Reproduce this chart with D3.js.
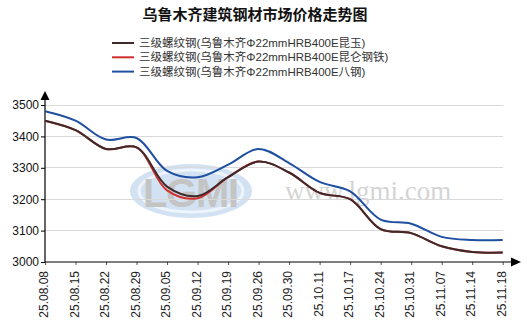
<!DOCTYPE html>
<html><head><meta charset="utf-8">
<script src="https://cdn.jsdelivr.net/npm/d3@7"></script>
<style>body{margin:0;background:#fff}svg{display:block}</style>
</head><body>
<svg id="c" width="527" height="334"></svg>
<script>
const title = "乌鲁木齐建筑钢材市场价格走势图";
const dates = ["25.08.08","25.08.15","25.08.22","25.08.29","25.09.05","25.09.12","25.09.19","25.09.26","25.09.30","25.10.11","25.10.17","25.10.24","25.10.31","25.11.07","25.11.14","25.11.18"];
const seriesNames = ["三级螺纹钢(乌鲁木齐Φ22mmHRB400E昆玉)","三级螺纹钢(乌鲁木齐Φ22mmHRB400E昆仑钢铁)","三级螺纹钢(乌鲁木齐Φ22mmHRB400E八钢)"];
const kunyu  = [3450,3420,3360,3365,3240,3210,3270,3320,3285,3220,3200,3105,3092,3050,3032,3030];
const kunlun = [3450,3420,3360,3365,3228,3203,3270,3320,3285,3220,3200,3105,3092,3050,3032,3030];
const bagang = [3480,3450,3390,3395,3290,3270,3310,3360,3315,3255,3225,3135,3122,3080,3070,3070];
const yTicks = [3000,3100,3200,3300,3400,3500];
const colors = ["#3e2a2a","#d0302e","#1f4fa0"];

const svg = d3.select("#c");
const x = d3.scalePoint().domain(dates).range([45, 502.7]);
const y = d3.scaleLinear().domain([3000,3500]).range([262,105]);
const font = "'Liberation Sans', Arial, 'Noto Sans CJK SC', sans-serif";

// watermark
const wm = svg.append("g");
wm.append("ellipse").attr("cx",191).attr("cy",191).attr("rx",61).attr("ry",27).attr("fill","#d3e2f2");
wm.append("ellipse").attr("cx",191).attr("cy",191).attr("rx",52).attr("ry",21).attr("fill","none").attr("stroke","#eef4fb").attr("stroke-width",3);
wm.append("text").attr("x",191).attr("y",207).attr("text-anchor","middle").attr("font-family","'Liberation Sans', Arial").attr("font-weight","bold").attr("font-size",40).attr("fill","#c4c4c4").attr("textLength",96).text("LGMI");
wm.append("text").attr("x",285).attr("y",200).attr("font-family","'Liberation Serif', 'Times New Roman', serif").attr("font-size",27).attr("fill","#d4d4d4").text("www.lgmi.com");

// grid
svg.append("g").selectAll("line").data(yTicks.slice(1)).join("line")
  .attr("x1",45).attr("x2",503).attr("y1",d=>y(d)).attr("y2",d=>y(d))
  .attr("stroke","#d9d9d9").attr("stroke-width",1).attr("shape-rendering","crispEdges");

// title
svg.append("text").attr("x",255).attr("y",20).attr("text-anchor","middle")
  .attr("font-family","'Noto Sans CJK SC', sans-serif").attr("font-weight","bold").attr("font-size",15).attr("fill","#111").text(title);

// legend
const lg = svg.append("g");
seriesNames.forEach((n,i)=>{
  const yy = 43 + i*14.3;
  lg.append("line").attr("x1",112).attr("x2",134).attr("y1",yy).attr("y2",yy).attr("stroke",colors[i]).attr("stroke-width",2);
  lg.append("text").attr("x",139).attr("y",yy).attr("dy","0.36em").attr("font-family",font).attr("font-size",11.5).attr("fill","#333").text(n);
});

// y axis
const ya = svg.append("g").attr("transform","translate(45,0)")
  .call(d3.axisLeft(y).tickValues(yTicks).tickSize(4).tickPadding(2).tickFormat(d3.format("d")));
ya.select(".domain").remove();
ya.selectAll("line").attr("stroke","#000");
ya.selectAll("text").attr("font-family",font).attr("font-size",12).attr("fill","#111");
svg.append("line").attr("x1",45).attr("x2",45).attr("y1",262).attr("y2",98).attr("stroke","#000").attr("stroke-width",1.2);
svg.append("path").attr("d","M45,91 L40.5,100 L49.5,100 Z").attr("fill","#000");

// x axis
const xa = svg.append("g").attr("transform","translate(0,262)")
  .call(d3.axisBottom(x).tickSize(3).tickPadding(0));
xa.select(".domain").remove();
xa.selectAll("line").attr("stroke","#555");
xa.selectAll("text").attr("font-family",font).attr("font-size",12).attr("fill","#222")
  .attr("text-anchor","end").attr("transform","rotate(-90)").attr("x",-9).attr("y",-1.5).attr("dy","0.35em");
svg.append("line").attr("x1",45).attr("x2",512).attr("y1",262).attr("y2",262).attr("stroke","#000").attr("stroke-width",1.2);
svg.append("path").attr("d","M521,262 L511,257.5 L511,266.5 Z").attr("fill","#000");

// lines
const line = d3.line().x((d,i)=>x(dates[i])).y(d=>y(d)).curve(d3.curveCatmullRom.alpha(0.5));
[[kunlun,1],[bagang,2],[kunyu,0]].forEach(([s,idx])=>{
  svg.append("path").attr("d",line(s)).attr("fill","none").attr("stroke",colors[idx]).attr("stroke-width",2);
});
</script>
</body></html>
